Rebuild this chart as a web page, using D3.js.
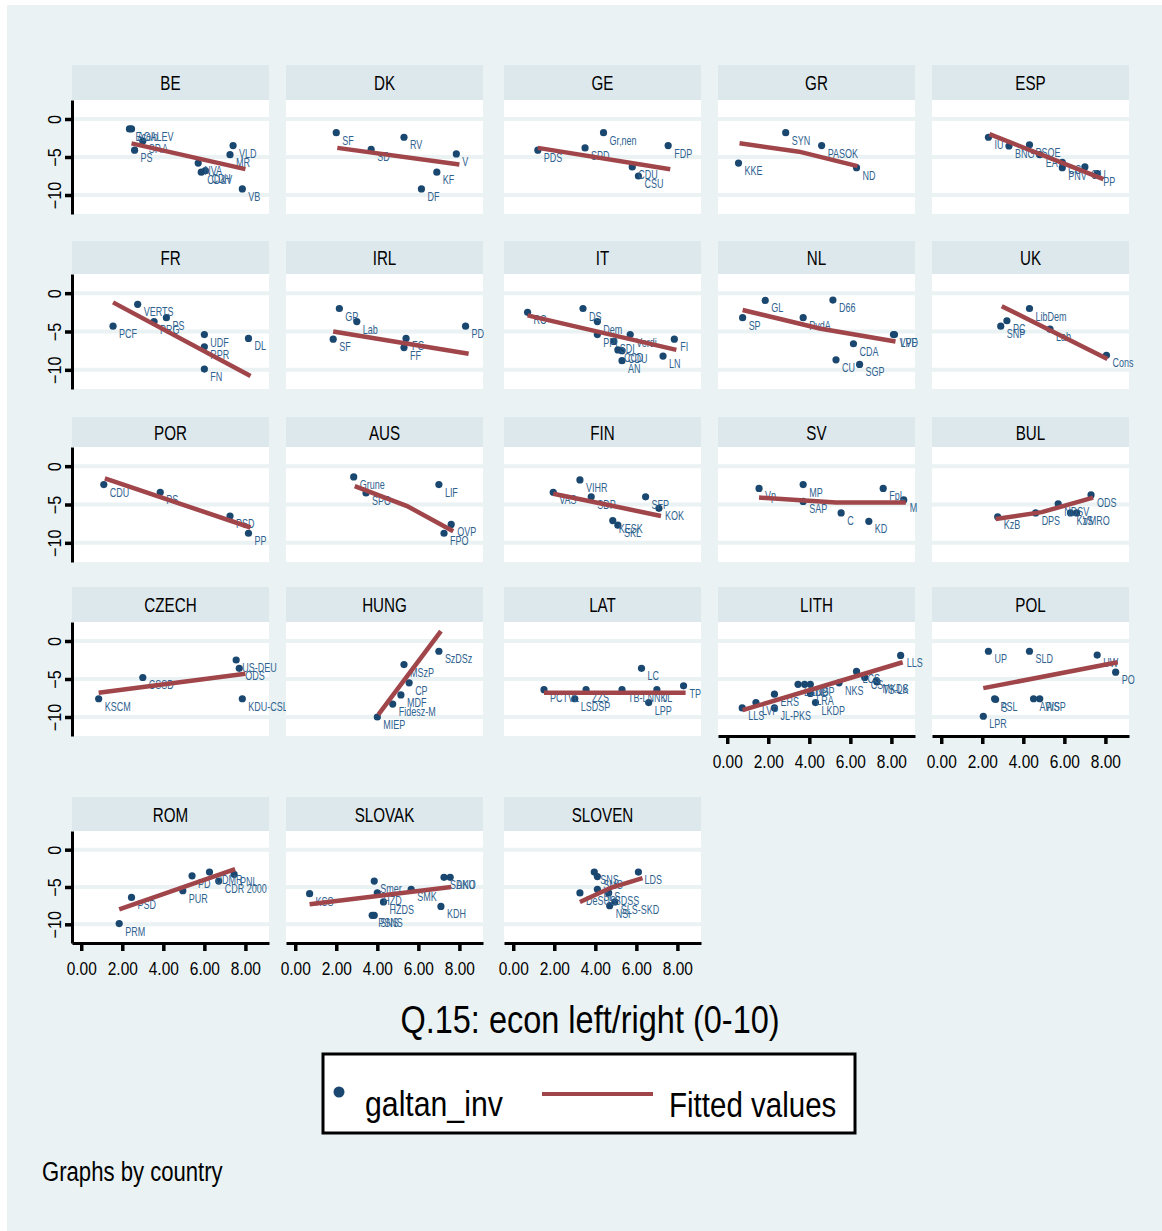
<!DOCTYPE html>
<html lang="en">
<head>
<meta charset="UTF-8">
<title>galtan vs econ left/right, by country</title>
<script src="https://d3js.org/d3.v7.min.js"></script>
<style>
  body { margin: 0; background: #ffffff; }
  text { font-family: "Liberation Sans", Arial, sans-serif; }
  .lab { fill: #2f628f; font-size: 12.5px; }
  .fit { fill: none; stroke: #a0454a; stroke-width: 4.5px; }
  .grid { stroke: #eaf2f3; stroke-width: 4px; }
</style>
</head>
<body>
<div id="container"></div>
<script>
// panel order (Stata by(country), 5 per row)
const countries = ["BE","DK","GE","GR","ESP","FR","IRL","IT","NL","UK",
                   "POR","AUS","FIN","SV","BUL","CZECH","HUNG","LAT","LITH","POL",
                   "ROM","SLOVAK","SLOVEN"];

// [party, econ left/right, galtan_inv]  -- fitted values as [x, y] pairs
const BE = [["Ecolo",2.35,-1.3],["AGALEV",2.45,-1.3],["SP.A",3.0,-2.9],["PS",2.6,-4.1],["NVA",5.7,-5.8],
            ["CDH",6.05,-6.8],["CD&V",5.85,-7.0],["VLD",7.4,-3.5],["MR",7.25,-4.7],["VB",7.85,-9.2]];
const BE_fit = [[2.45,-3.2],[8.0,-6.6]];

const DK = [["SF",2.0,-1.8],["SD",3.7,-4.0],["RV",5.3,-2.4],["V",7.85,-4.6],["KF",6.9,-7.0],["DF",6.15,-9.2]];
const DK_fit = [[2.05,-3.8],[8.0,-6.0]];

const GE = [["PDS",1.2,-4.1],["Gr\u201Anen",4.4,-1.8],["SPD",3.5,-3.8],["FDP",7.55,-3.5],["CDU",5.8,-6.3],["CSU",6.1,-7.5]];
const GE_fit = [[1.2,-3.8],[7.65,-6.6]];

const GR = [["KKE",0.55,-5.8],["SYN",2.85,-1.8],["PASOK",4.6,-3.5],["ND",6.3,-6.4]];
const GR_fit = [[0.6,-3.2],[3.5,-4.3],[6.35,-6.2]];

const ESP = [["IU",2.3,-2.4],["BNG",3.3,-3.55],["PSOE",4.3,-3.4],["EA",4.8,-4.7],["CC",5.9,-5.7],
             ["PNV",5.9,-6.4],["CiU",7.0,-6.3],["PP",7.6,-7.2]];
const ESP_fit = [[2.35,-2.0],[7.9,-7.9]];

const FR = [["PCF",1.55,-4.3],["VERTS",2.75,-1.45],["PRG",3.55,-3.7],["PS",4.15,-3.2],["UDF",6.0,-5.4],
            ["RPR",6.0,-7.0],["FN",6.0,-9.9],["DL",8.15,-5.9]];
const FR_fit = [[1.55,-1.2],[8.25,-10.8]];

const IRL = [["SF",1.85,-6.0],["GP",2.15,-2.0],["Lab",3.0,-3.7],["FG",5.4,-5.9],["FF",5.3,-7.1],["PD",8.3,-4.3]];
const IRL_fit = [[1.85,-5.0],[8.45,-7.9]];

const IT = [["RC",0.7,-2.5],["DS",3.4,-2.0],["Dem",4.1,-3.7],["PPI",4.1,-5.4],["SDI",4.9,-6.3],["Verdi",5.7,-5.4],
            ["CCD",5.1,-7.4],["CDU",5.3,-7.5],["AN",5.3,-8.8],["FI",7.85,-6.0],["LN",7.3,-8.2]];
const IT_fit = [[0.7,-2.9],[7.95,-7.4]];

const NL = [["SP",0.75,-3.2],["GL",1.85,-0.95],["PvdA",3.7,-3.2],["D66",5.15,-0.9],["CDA",6.15,-6.6],
            ["CU",5.3,-8.7],["SGP",6.45,-9.3],["VVD",8.1,-5.4],["LPF",8.15,-5.4]];
const NL_fit = [[0.75,-2.2],[4.5,-4.6],[8.2,-6.3]];

const UK = [["SNP",2.9,-4.3],["PC",3.2,-3.6],["LibDem",4.3,-2.0],["Lab",5.3,-4.7],["Cons",8.05,-8.1]];
const UK_fit = [[2.95,-1.7],[8.1,-8.6]];

const POR = [["CDU",1.1,-2.4],["PS",3.85,-3.4],["PSD",7.25,-6.5],["PP",8.15,-8.75]];
const POR_fit = [[1.15,-1.6],[8.25,-8.0]];

const AUS = [["Grune",2.85,-1.4],["SPO",3.45,-3.5],["LIF",7.0,-2.4],["OVP",7.6,-7.6],["FPO",7.25,-8.75]];
const AUS_fit = [[2.9,-2.6],[5.45,-5.2],[7.7,-8.5]];

const FIN = [["VAS",1.95,-3.4],["VIHR",3.25,-1.8],["SDP",3.8,-4.0],["SFP",6.45,-4.0],["KOK",7.1,-5.5],
             ["KESK",4.85,-7.1],["SKL",5.1,-7.7]];
const FIN_fit = [[1.95,-3.6],[4.7,-5.1],[7.2,-6.5]];

const SV = [["Vp",1.55,-2.9],["MP",3.7,-2.4],["SAP",3.7,-4.6],["C",5.55,-6.1],["KD",6.9,-7.2],["FpL",7.6,-2.9],["M",8.6,-4.4]];
const SV_fit = [[1.55,-4.1],[5.3,-4.75],[8.7,-4.75]];

const BUL = [["KzB",2.75,-6.6],["DPS",4.6,-6.1],["NDSV",5.7,-4.9],["KzS",6.3,-6.1],["VMRO",6.6,-6.1],["ODS",7.3,-3.75]];
const BUL_fit = [[2.65,-6.9],[4.9,-6.0],[7.4,-4.1]];

const CZECH = [["KSCM",0.85,-7.6],["CSSD",3.0,-4.8],["US-DEU",7.55,-2.5],["ODS",7.7,-3.6],["KDU-CSL",7.85,-7.6]];
const CZECH_fit = [[0.85,-6.8],[8.0,-4.3]];

const HUNG = [["MIEP",4.0,-10.0],["Fidesz-M",4.75,-8.3],["MDF",5.15,-7.1],["CP",5.55,-5.5],["MSzP",5.3,-3.1],["SzDSz",7.0,-1.35]];
const HUNG_fit = [[4.05,-9.7],[7.1,1.3]];

const LAT = [["PCTVL",1.5,-6.4],["LSDSP",3.0,-7.6],["ZZS",3.55,-6.4],["TB-LNNK",5.3,-6.4],["JL",7.0,-6.4],
             ["LPP",6.6,-8.1],["LC",6.25,-3.6],["TP",8.3,-5.9]];
const LAT_fit = [[1.5,-6.8],[8.4,-6.8]];

const LITH = [["LLS",0.73,-8.8],["LVP",1.4,-8.1],["JL-PKS",2.3,-8.8],["ERS",2.3,-7.0],["LSDP",3.45,-5.7],
              ["LDDP",3.77,-5.7],["NS",4.05,-5.7],["LRA",4.05,-6.9],["LKDP",4.3,-8.1],["NKS",5.45,-5.5],
              ["LCS",6.3,-4.0],["CS",6.7,-4.8],["MKDS",7.27,-5.2],["TS-LK",7.3,-5.4],["LLS",8.45,-1.9]];
const LITH_fit = [[0.75,-9.1],[8.55,-2.8]];

const POL = [["UP",2.3,-1.35],["SLD",4.3,-1.35],["UW",7.6,-1.85],["PO",8.5,-4.1],["PSL",2.6,-7.6],["S",2.65,-7.7],
             ["AWSP",4.5,-7.6],["PiS",4.8,-7.6],["LPR",2.05,-9.9]];
const POL_fit = [[2.05,-6.2],[8.6,-2.8]];

const ROM = [["PRM",1.85,-9.9],["PSD",2.45,-6.4],["PUR",4.95,-5.5],["PD",5.4,-3.5],["UDMR",6.25,-3.0],
             ["CDR 2000",6.7,-4.2],["PNL",7.45,-3.3]];
const ROM_fit = [[1.85,-8.0],[7.5,-2.6]];

const SLOVAK = [["KSS",0.7,-5.9],["Smer",3.85,-4.2],["HZD",4.0,-5.8],["HZDS",4.3,-7.0],["PSNS",3.75,-8.8],
                ["SNS",3.85,-8.8],["SMK",5.65,-5.3],["KDH",7.1,-7.6],["SDKU",7.25,-3.7],["ANO",7.55,-3.7]];
const SLOVAK_fit = [[0.7,-7.3],[7.6,-5.0]];

const SLOVEN = [["DeSUS",3.25,-5.8],["SNS",3.95,-3.0],["SMS",4.1,-3.6],["SLS",4.1,-5.3],["SDSS",4.65,-5.8],
                ["SLS-SKD",4.95,-7.0],["NSi",4.7,-7.5],["LDS",6.1,-3.0]];
const SLOVEN_fit = [[3.25,-7.0],[4.75,-5.1],[6.3,-3.8]];

const xTicks = [0, 2, 4, 6, 8];
const yTicks = [0, -5, -10];
const xTitle = "Q.15: econ left/right (0-10)";
const legendLabels = ["galtan_inv", "Fitted values"];
const note = "Graphs by country";

// lookup table for the loop below
const panelData = {
  BE: [BE, BE_fit], DK: [DK, DK_fit], GE: [GE, GE_fit], GR: [GR, GR_fit], ESP: [ESP, ESP_fit],
  FR: [FR, FR_fit], IRL: [IRL, IRL_fit], IT: [IT, IT_fit], NL: [NL, NL_fit], UK: [UK, UK_fit],
  POR: [POR, POR_fit], AUS: [AUS, AUS_fit], FIN: [FIN, FIN_fit], SV: [SV, SV_fit], BUL: [BUL, BUL_fit],
  CZECH: [CZECH, CZECH_fit], HUNG: [HUNG, HUNG_fit], LAT: [LAT, LAT_fit], LITH: [LITH, LITH_fit], POL: [POL, POL_fit],
  ROM: [ROM, ROM_fit], SLOVAK: [SLOVAK, SLOVAK_fit], SLOVEN: [SLOVEN, SLOVEN_fit]
};

// LAYOUT
const W = 1162, H = 1231;
const FONT = '"Liberation Sans", Arial, sans-serif';
const colLeft = [72, 286, 504, 718, 932];
const panelW = 197;
const rowGeo = [
  {head: 65,  top: 100, bottom: 214},
  {head: 241, top: 274, bottom: 389},
  {head: 417, top: 447, bottom: 562},
  {head: 587, top: 622, bottom: 736},
  {head: 797, top: 831, bottom: 943}
];

const svg = d3.select("#container").append("svg")
  .attr("width", W).attr("height", H);

svg.append("rect")
  .attr("x", 7).attr("y", 5).attr("width", W - 7).attr("height", H - 5)
  .attr("fill", "#eaf2f3");

// stata's font is condensed: squeeze text horizontally
function narrow(x, y, k) {
  return "translate(" + x + "," + y + ") scale(" + k + ",1)";
}

const line = d3.line();

countries.forEach(function (name, i) {
  const row = Math.floor(i / 5), col = i % 5;
  const geo = rowGeo[row], left = colLeft[col];
  const pts = panelData[name][0], fit = panelData[name][1];

  const x = d3.scaleLinear().domain([-0.45, 9.15]).range([left, left + panelW]);
  const y = d3.scaleLinear().domain([-12.5, 2.5]).range([geo.bottom, geo.top]);

  const p = svg.append("g").attr("class", "panel");

  // header strip
  p.append("rect")
    .attr("x", left).attr("y", geo.head)
    .attr("width", panelW).attr("height", geo.top - geo.head)
    .attr("fill", "#dde8ed");
  p.append("text")
    .attr("transform", narrow(left + panelW / 2, (geo.head + geo.top) / 2 + 7.5, 0.76))
    .attr("text-anchor", "middle")
    .attr("font-size", 20)
    .attr("fill", "#000")
    .text(name);

  // plot region
  p.append("rect")
    .attr("x", left).attr("y", geo.top)
    .attr("width", panelW).attr("height", geo.bottom - geo.top)
    .attr("fill", "#ffffff");

  p.selectAll("line.grid")
    .data(yTicks)
    .enter().append("line")
    .attr("class", "grid")
    .attr("x1", left).attr("x2", left + panelW)
    .attr("y1", function (d) { return y(d); })
    .attr("y2", function (d) { return y(d); });

  // markers
  p.selectAll("circle")
    .data(pts)
    .enter().append("circle")
    .attr("cx", function (d) { return x(d[1]); })
    .attr("cy", function (d) { return y(d[2]); })
    .attr("r", 3.6)
    .attr("fill", "#1a476f");

  // marker labels
  p.selectAll("text.lab")
    .data(pts)
    .enter().append("text")
    .attr("class", "lab")
    .attr("transform", function (d) { return narrow(x(d[1]) + 6, y(d[2]) + 12, 0.72); })
    .text(function (d) { return d[0]; });

  // fitted values
  p.append("path")
    .attr("class", "fit")
    .attr("d", line(fit.map(function (d) { return [x(d[0]), y(d[1])]; })));

  // y axis on first column
  if (col === 0) {
    const ya = p.append("g")
      .attr("transform", "translate(" + left + ",0)")
      .call(d3.axisLeft(y).tickValues(yTicks).tickSize(7).tickSizeOuter(0));
    ya.attr("font-family", FONT).attr("font-size", 18);
    ya.select(".domain").attr("stroke", "#000").attr("stroke-width", 3);
    ya.selectAll(".tick line").attr("stroke", "#000").attr("stroke-width", 3.5);
    ya.selectAll(".tick text")
      .attr("transform", "rotate(-90) translate(0,-11) scale(0.9,1)")
      .attr("x", 0).attr("y", 0).attr("dy", 0)
      .attr("text-anchor", "middle")
      .attr("fill", "#000");
  }

  // x axis where nothing sits below
  if (i + 5 >= countries.length) {
    const xa = p.append("g")
      .attr("transform", "translate(0," + geo.bottom + ")")
      .call(d3.axisBottom(x).tickValues(xTicks).tickFormat(d3.format(".2f"))
        .tickSize(8).tickSizeOuter(0).tickPadding(11));
    xa.attr("font-family", FONT).attr("font-size", 18);
    xa.select(".domain").attr("stroke", "#000").attr("stroke-width", 3);
    xa.selectAll(".tick line").attr("stroke", "#000").attr("stroke-width", 3.5);
    xa.selectAll(".tick text").attr("fill", "#000").attr("transform", "scale(0.86,1)");
  }
});

// axis title
svg.append("text")
  .attr("transform", narrow(590, 1033, 0.855))
  .attr("text-anchor", "middle")
  .attr("font-size", 38)
  .text(xTitle);

// legend
const lg = svg.append("g");
lg.append("rect")
  .attr("x", 323).attr("y", 1054).attr("width", 532).attr("height", 79)
  .attr("fill", "#fff").attr("stroke", "#000").attr("stroke-width", 3);
lg.append("circle").attr("cx", 339).attr("cy", 1092).attr("r", 5.5).attr("fill", "#1a476f");
lg.append("text").attr("transform", narrow(365, 1116, 0.84)).attr("font-size", 36).text(legendLabels[0]);
lg.append("line")
  .attr("x1", 542).attr("x2", 653).attr("y1", 1094).attr("y2", 1094)
  .attr("stroke", "#a0454a").attr("stroke-width", 4);
lg.append("text").attr("transform", narrow(669, 1117, 0.82)).attr("font-size", 36).text(legendLabels[1]);

// note
svg.append("text")
  .attr("transform", narrow(42, 1181, 0.79))
  .attr("font-size", 28)
  .text(note);
</script>
</body>
</html>
